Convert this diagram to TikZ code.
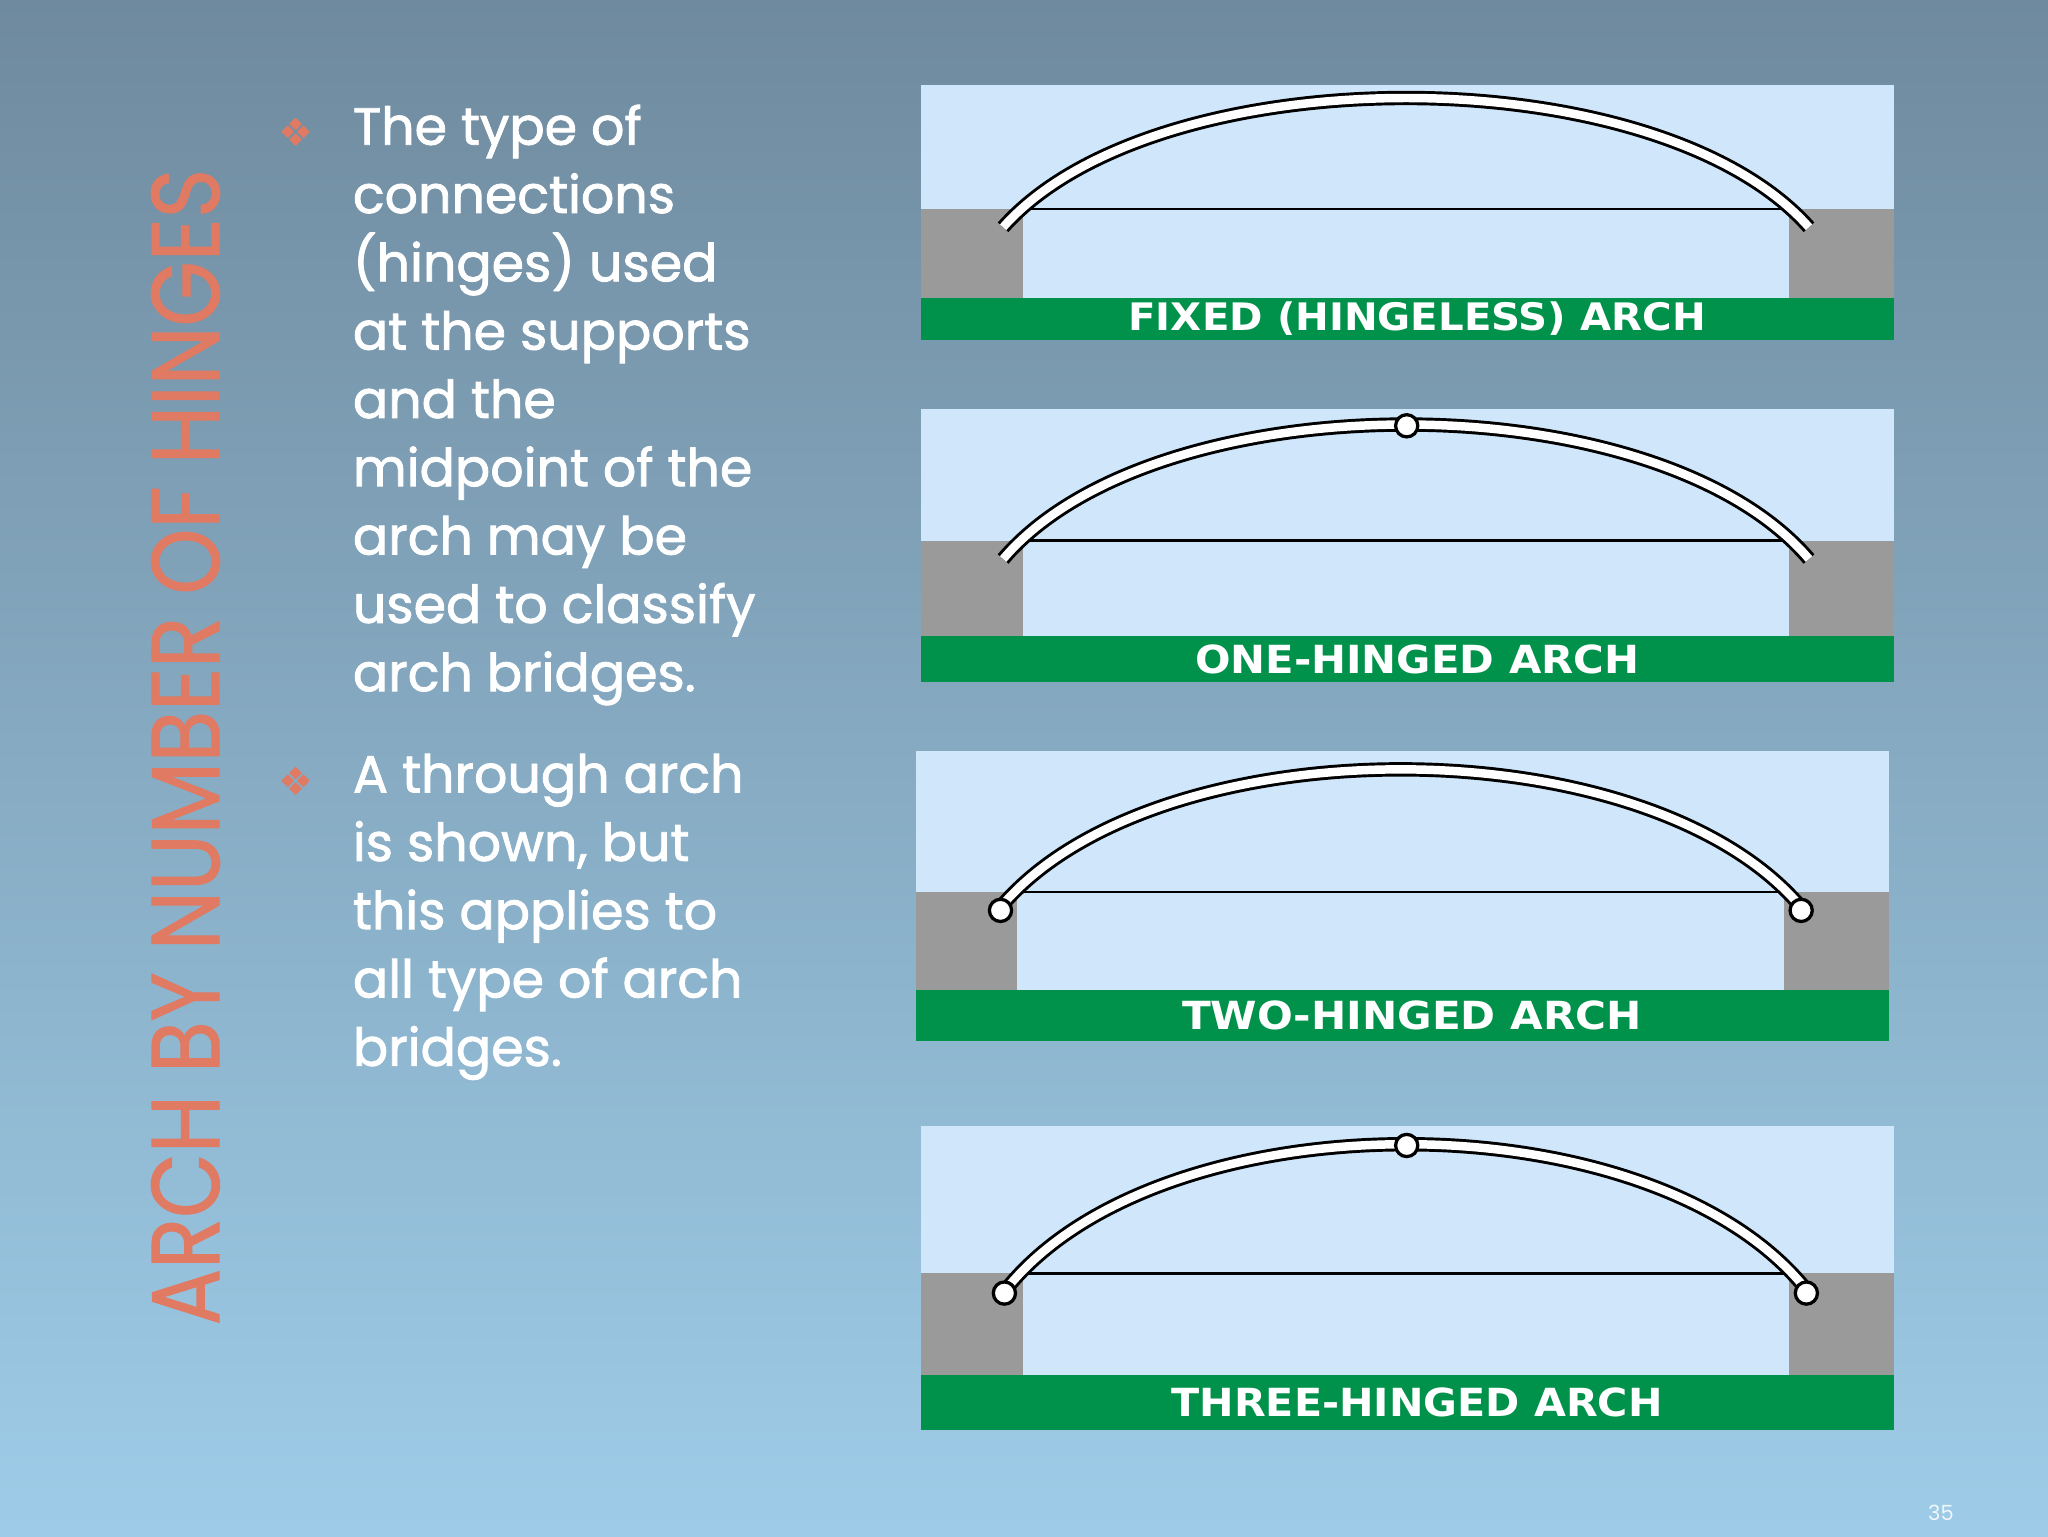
\documentclass[tikz,border=0pt]{standalone}
\usepackage{fontspec}
\usepackage{graphicx}
\setmainfont{Poppins}
\newfontfamily\bodyfont{Poppins}[FakeBold=1.6]
\newfontfamily\titlefont{Poppins}[FakeBold=1.2]
\newfontfamily\labfont{DejaVu Sans}
\definecolor{skyc}{HTML}{CFE6FB}
\definecolor{grayc}{HTML}{9A9A9A}
\definecolor{greenc}{HTML}{00924A}
\definecolor{salmon}{HTML}{E07A62}
\definecolor{bgtop}{HTML}{6F8A9E}
\definecolor{bgbot}{HTML}{9ECCE8}
\tikzset{
  archb/.style={line width=11pt,black},
  archw/.style={line width=6.5pt,white},
  hingec/.style={circle,draw=black,fill=white,line width=2.5pt,minimum size=17pt,inner sep=0pt},
  labnode/.style={text=white,inner sep=0pt,font=\labfont\bfseries},
  bultext/.style={text=white,anchor=north west,align=left,inner sep=0pt,font=\bodyfont\fontsize{40}{52.3}\selectfont},
  bulmark/.style={text=salmon,inner sep=0pt,font=\labfont\fontsize{30}{30}\selectfont}
}
% #1 left x, #2 top, #3 ground y, #4 gray bottom, #5 green bottom, #6 arch top y, #7 arch end y, #8 label width, #9 label
\newcommand\archpanel[9]{%
  \fill[skyc] (#1,#2) rectangle ++(745,#3-#2);
  \fill[skyc] (#1+78,#3) rectangle (#1+665,#4);
  \fill[grayc] (#1,#3) rectangle (#1+78,#4);
  \fill[grayc] (#1+665,#3) rectangle (#1+745,#4);
  \fill[greenc] (#1,#4) rectangle (#1+745,#5);
  \draw[black,line width=2pt] (#1+78,#3) -- (#1+665,#3);
  \coordinate (aL) at (#1+63,#7);
  \coordinate (aR) at (#1+680,#7);
  \draw[archb] (aL) .. controls (#1+180,{#7-1.333*(#7-#6)}) and (#1+563,{#7-1.333*(#7-#6)}) .. (aR);
  \draw[archw] (aL) .. controls (#1+180,{#7-1.333*(#7-#6)}) and (#1+563,{#7-1.333*(#7-#6)}) .. (aR);
  \node[labnode] at (#1+380,{(#4+#5)/2}) {\resizebox{#8pt}{22pt}{#9}};
}
\begin{document}
\begin{tikzpicture}[x=1pt,y=-1pt]
\shade[top color=bgtop,bottom color=bgbot] (0,0) rectangle (1568,1176);
\useasboundingbox (0,0) rectangle (1568,1176);
% title
\node[rotate=90,text=salmon,inner sep=0pt] (title) at (142,572) {\resizebox{885pt}{52pt}{\titlefont ARCH BY NUMBER OF HINGES}};
% bullets
\node[bulmark] (m1) at (227,101) {❖};
\node[bultext] (t1) at (270,80) {The type of\\connections\\(hinges) used\\at the supports\\and the\\midpoint of the\\arch may be\\used to classify\\arch bridges.};
\node[bulmark] (m2) at (227,598) {❖};
\node[bultext] (t2) at (270,577) {A through arch\\is shown, but\\this applies to\\all type of arch\\bridges.};
% panels
\archpanel{705}{65}{160}{228}{260}{75}{174}{442}{FIXED (HINGELESS) ARCH}
\archpanel{705}{313}{414}{487}{522}{325}{428}{340}{ONE-HINGED ARCH}
\node[hingec] (h1) at (1077,326) {};
\archpanel{701}{575}{683}{758}{797}{589}{697}{352}{TWO-HINGED ARCH}
\node[hingec] (h2a) at (766,697) {};
\node[hingec] (h2b) at (1379,697) {};
\archpanel{705}{862}{975}{1053}{1095}{876}{990}{376}{THREE-HINGED ARCH}
\node[hingec] (h3) at (1077,877) {};
\node[hingec] (h3a) at (769,990) {};
\node[hingec] (h3b) at (1383,990) {};
\node[text=white!85!bgbot,font=\fontsize{16}{16}\selectfont] (pg) at (1486,1158) {35};
\end{tikzpicture}
\end{document}
